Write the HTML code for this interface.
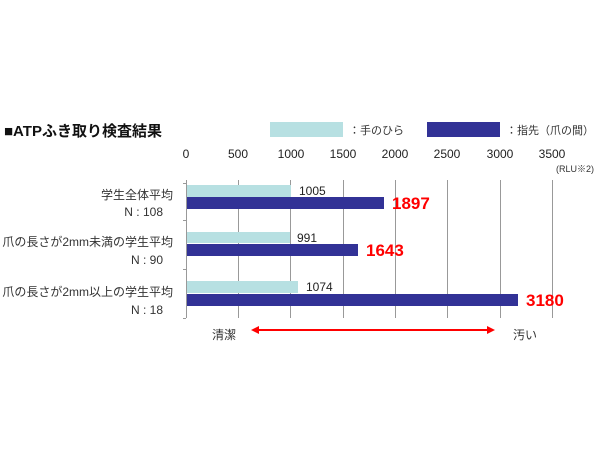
<!DOCTYPE html><html><head><meta charset="utf-8"><style>
body{margin:0;background:#fff;}
svg text{font-family:"Liberation Sans","Noto Sans CJK JP",sans-serif;}
</style></head><body>
<svg width="600" height="450" xmlns="http://www.w3.org/2000/svg">
<rect width="600" height="450" fill="#fff"/>
<text x="4" y="136" font-size="15" font-weight="bold" fill="#111">■ATPふき取り検査結果</text>
<rect x="270" y="122" width="73" height="15" fill="#b7e0e2"/>
<text x="349" y="134" font-size="11" fill="#333">：手のひら</text>
<rect x="427" y="122" width="73" height="15" fill="#323296"/>
<text x="506" y="134" font-size="11" fill="#333">：指先（爪の間）</text>
<g font-size="12" fill="#222" text-anchor="middle">
<text x="186" y="158">0</text><text x="238" y="158">500</text><text x="291" y="158">1000</text><text x="343" y="158">1500</text><text x="395" y="158">2000</text><text x="447" y="158">2500</text><text x="500" y="158">3000</text><text x="552" y="158">3500</text>
</g>
<text x="556" y="172" font-size="9" fill="#333">(RLU※2)</text>
<g stroke="#999" stroke-width="1">
<line x1="238.5" y1="180" x2="238.5" y2="318"/><line x1="290.5" y1="180" x2="290.5" y2="318"/><line x1="343.5" y1="180" x2="343.5" y2="318"/><line x1="395.5" y1="180" x2="395.5" y2="318"/><line x1="447.5" y1="180" x2="447.5" y2="318"/><line x1="500.5" y1="180" x2="500.5" y2="318"/><line x1="552.5" y1="180" x2="552.5" y2="318"/>
<line x1="186.5" y1="180" x2="186.5" y2="318"/>
<line x1="183" y1="183.5" x2="186" y2="183.5"/><line x1="183" y1="220.5" x2="186" y2="220.5"/><line x1="183" y1="269.5" x2="186" y2="269.5"/><line x1="183" y1="318.5" x2="186" y2="318.5"/>
</g>
<rect x="187" y="185" width="104" height="12" fill="#b7e0e2"/>
<rect x="187" y="197" width="197" height="12" fill="#323296"/>
<rect x="187" y="232" width="103" height="11" fill="#b7e0e2"/>
<rect x="187" y="244" width="171" height="12" fill="#323296"/>
<rect x="187" y="281" width="111" height="12" fill="#b7e0e2"/>
<rect x="187" y="294" width="331" height="12" fill="#323296"/>
<g font-size="12" fill="#222">
<text x="299" y="195">1005</text><text x="297" y="242">991</text><text x="306" y="291">1074</text>
</g>
<g font-size="17" font-weight="bold" fill="#f00">
<text x="392" y="209">1897</text><text x="366" y="256">1643</text><text x="526" y="306">3180</text>
</g>
<g font-size="12" fill="#333" text-anchor="end">
<text x="173" y="199">学生全体平均</text><text x="163" y="216">N : 108</text>
<text x="173" y="246">爪の長さが2mm未満の学生平均</text><text x="163" y="264">N : 90</text>
<text x="173" y="296">爪の長さが2mm以上の学生平均</text><text x="163" y="314">N : 18</text>
</g>
<text x="212" y="339" font-size="12" fill="#333">清潔</text>
<text x="513" y="339" font-size="12" fill="#333">汚い</text>
<line x1="258" y1="330" x2="488" y2="330" stroke="#f00" stroke-width="2"/>
<polygon points="251,330 259,326 259,334" fill="#f00"/>
<polygon points="495,330 487,326 487,334" fill="#f00"/>
</svg>
</body></html>
